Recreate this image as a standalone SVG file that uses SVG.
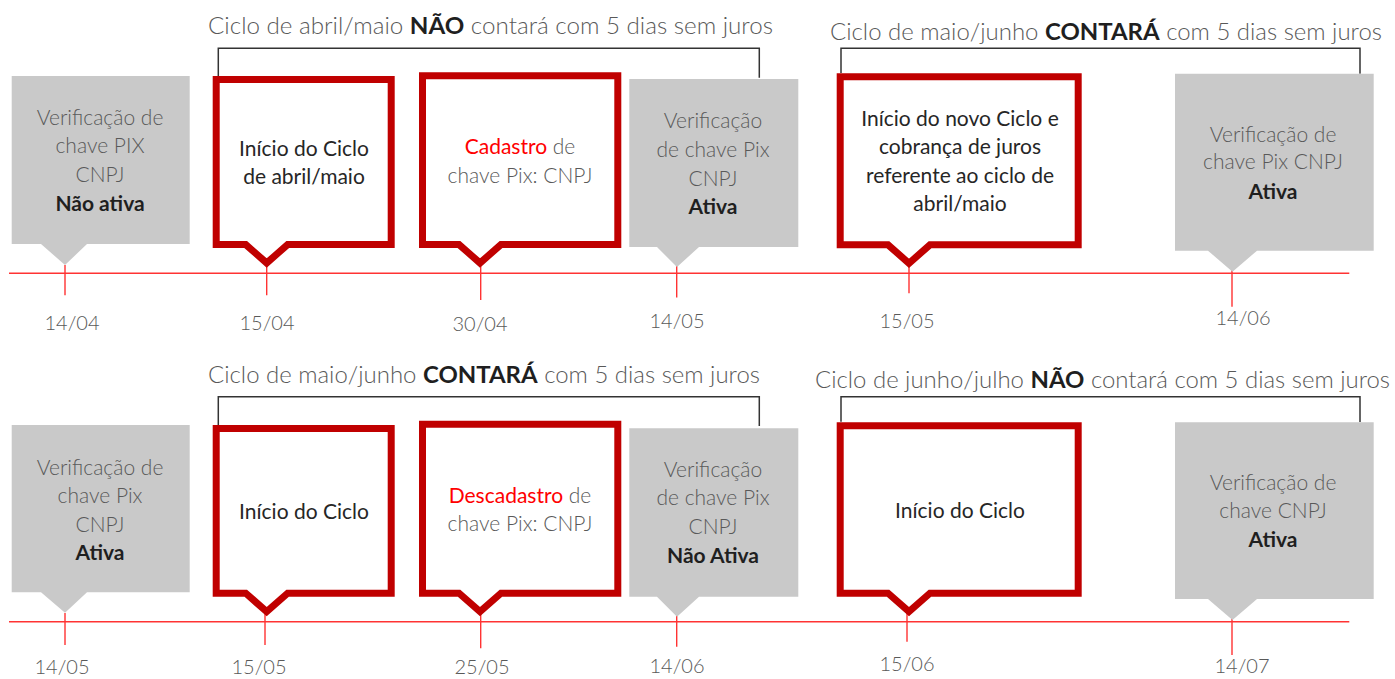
<svg xmlns="http://www.w3.org/2000/svg" width="1395" height="679" viewBox="0 0 1395 679">
<style>
.bg{fill:#ffffff}
.t{font-family:Lato,"Liberation Sans",sans-serif;font-size:21px;fill:#595959;text-anchor:middle;font-weight:300}
.dk{fill:#262626;font-weight:400}
.b{font-weight:700;fill:#1f1f1f}
.r{fill:#ff0000;font-weight:400}
.ttl{font-family:Lato,"Liberation Sans",sans-serif;font-size:23px;fill:#595959;font-weight:300}
.date{font-family:Lato,"Liberation Sans",sans-serif;font-size:20px;fill:#595959;text-anchor:middle;font-weight:300}
.callout{fill:#ffffff;stroke:#c00000;stroke-width:7;stroke-miterlimit:10}
.gbox{fill:#c9c9c9}
.axis{stroke:#ff3333;stroke-width:1.4;fill:none}
.brk{fill:none;stroke:#333333;stroke-width:1.5}
</style>
<rect class="bg" x="0" y="0" width="1395" height="679"/>

<g id="connectors">
  <path class="axis" d="M9,273.3 H1349.3"/>
  <path class="axis" d="M65,265 V295.3 M266.7,265 V295.3 M480.7,265 V300 M676.7,265 V297.5 M909,265 V293.3 M1232,265 V306.7"/>
  <path class="axis" d="M9,621.7 H1349.3"/>
  <path class="axis" d="M65,613 V645 M265,613 V645 M480.7,613 V648.3 M676.7,613 V646.7 M907,613 V641.7 M1232,613 V655"/>
  <path class="brk" d="M218.3,77 V48.3 H759.3 V77.7"/>
  <path class="brk" d="M841,73 V48.3 H1360 V73.7"/>
  <path class="brk" d="M218.3,425 V396.7 H759.3 V426"/>
  <path class="brk" d="M841,421.7 V396.7 H1360 V422"/>
</g>

<g id="title-1"><text class="ttl" x="208" y="34" textLength="565" lengthAdjust="spacingAndGlyphs">Ciclo de abril/maio <tspan class="b">NÃO</tspan> contará com 5 dias sem juros</text></g>
<g id="title-2"><text class="ttl" x="830" y="40" textLength="552" lengthAdjust="spacingAndGlyphs">Ciclo de maio/junho <tspan class="b">CONTARÁ</tspan> com 5 dias sem juros</text></g>
<g id="title-3"><text class="ttl" x="208" y="383" textLength="552" lengthAdjust="spacingAndGlyphs">Ciclo de maio/junho <tspan class="b">CONTARÁ</tspan> com 5 dias sem juros</text></g>
<g id="title-4"><text class="ttl" x="815" y="388" textLength="575" lengthAdjust="spacingAndGlyphs">Ciclo de junho/julho <tspan class="b">NÃO</tspan> contará com 5 dias sem juros</text></g>

<g id="node-g1">
  <path class="gbox" d="M11.7,76 H189.7 V244 H87 L65,265 L41,244 H11.7 Z"/>
  <text class="t" x="100" y="125">Verificação de</text>
  <text class="t" x="100" y="153">chave PIX</text>
  <text class="t" x="100" y="182">CNPJ</text>
  <text class="t b" x="100" y="211">Não ativa</text>
</g>
<g id="node-c1">
  <path class="callout" d="M216.2,79.5 H391.2 V244.5 H287.7 L266.7,263 L245.7,244.5 H216.2 Z"/>
  <text class="t dk" x="304" y="156">Início do Ciclo</text>
  <text class="t dk" x="304" y="184">de abril/maio</text>
</g>
<g id="node-c2">
  <path class="callout" d="M422.5,75.8 H617.8 V244.5 H501 L480,263 L459,244.5 H422.5 Z"/>
  <text class="t" x="520" y="154"><tspan class="r">Cadastro</tspan> de</text>
  <text class="t" x="520" y="183">chave Pix: CNPJ</text>
</g>
<g id="node-g2">
  <path class="gbox" d="M629.3,79 H798.3 V247 H699 L677,267 L657,247 H629.3 Z"/>
  <text class="t" x="713" y="128">Verificação</text>
  <text class="t" x="713" y="157">de chave Pix</text>
  <text class="t" x="713" y="186">CNPJ</text>
  <text class="t b" x="713" y="214">Ativa</text>
</g>
<g id="node-c5">
  <path class="callout" d="M840.2,76.8 H1078.2 V244.8 H930 L909,263.3 L888,244.8 H840.2 Z"/>
  <text class="t dk" x="960" y="126">Início do novo Ciclo e</text>
  <text class="t dk" x="960" y="154">cobrança de juros</text>
  <text class="t dk" x="960" y="183">referente ao ciclo de</text>
  <text class="t dk" x="960" y="211">abril/maio</text>
</g>
<g id="node-g3">
  <path class="gbox" d="M1175,73.7 H1373.7 V250.7 H1257 L1232.5,271.7 L1208,250.7 H1175 Z"/>
  <text class="t" x="1273" y="141.7">Verificação de</text>
  <text class="t" x="1273" y="169.3">chave Pix CNPJ</text>
  <text class="t b" x="1273" y="199">Ativa</text>
</g>

<g id="node-g4">
  <path class="gbox" d="M11.7,425 H189.7 V592.3 H87 L65,612.7 L41,592.3 H11.7 Z"/>
  <text class="t" x="100" y="475">Verificação de</text>
  <text class="t" x="100" y="503">chave Pix</text>
  <text class="t" x="100" y="532">CNPJ</text>
  <text class="t b" x="100" y="560">Ativa</text>
</g>
<g id="node-c3">
  <path class="callout" d="M216.2,428.5 H391.2 V593.2 H287.7 L266.7,611.7 L245.7,593.2 H216.2 Z"/>
  <text class="t dk" x="304" y="519">Início do Ciclo</text>
</g>
<g id="node-c4">
  <path class="callout" d="M422.5,424.2 H617.8 V593.2 H501 L480,611.7 L459,593.2 H422.5 Z"/>
  <text class="t" x="520" y="502.7"><tspan class="r">Descadastro</tspan> de</text>
  <text class="t" x="520" y="530.7">chave Pix: CNPJ</text>
</g>
<g id="node-g5">
  <path class="gbox" d="M629.3,428.3 H798.3 V596.7 H699 L677,616.7 L657,596.7 H629.3 Z"/>
  <text class="t" x="713" y="476.7">Verificação</text>
  <text class="t" x="713" y="505">de chave Pix</text>
  <text class="t" x="713" y="534">CNPJ</text>
  <text class="t b" x="713" y="562.7">Não Ativa</text>
</g>
<g id="node-c6">
  <path class="callout" d="M840.2,425.8 H1078.2 V593.2 H930 L909,611.7 L888,593.2 H840.2 Z"/>
  <text class="t dk" x="960" y="518.3">Início do Ciclo</text>
</g>
<g id="node-g6">
  <path class="gbox" d="M1175,422.3 H1373.7 V599 H1257 L1232.5,620 L1208,599 H1175 Z"/>
  <text class="t" x="1273" y="490">Verificação de</text>
  <text class="t" x="1273" y="517.7">chave CNPJ</text>
  <text class="t b" x="1273" y="547.3">Ativa</text>
</g>

<g id="dates">
  <text class="date" x="72" y="330">14/04</text>
  <text class="date" x="267" y="330">15/04</text>
  <text class="date" x="480" y="331">30/04</text>
  <text class="date" x="677" y="328">14/05</text>
  <text class="date" x="907" y="328">15/05</text>
  <text class="date" x="1243" y="325">14/06</text>
  <text class="date" x="62" y="674">14/05</text>
  <text class="date" x="259" y="674">15/05</text>
  <text class="date" x="482" y="674">25/05</text>
  <text class="date" x="677" y="673">14/06</text>
  <text class="date" x="907" y="671">15/06</text>
  <text class="date" x="1242" y="673">14/07</text>
</g>
</svg>
